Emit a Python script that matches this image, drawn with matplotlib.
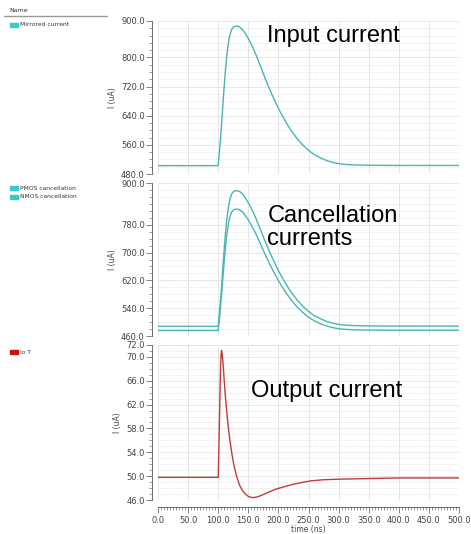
import numpy as np
import matplotlib.pyplot as plt
from matplotlib.ticker import FixedLocator, MultipleLocator
from matplotlib.patches import Rectangle
from matplotlib.lines import Line2D

# Input (mirrored) current
t_in = [0, 100, 102, 104, 106, 108, 110, 112, 114, 116, 118, 120, 122, 124, 127, 130,
        133, 136, 140, 145, 150, 155, 160, 165, 170, 175, 180, 185, 190, 195, 200, 205,
        210, 215, 220, 225, 230, 235, 240, 245, 250, 255, 260, 270, 280, 290, 300, 310,
        325, 350, 400, 500]
i_in = [503, 503, 540, 580, 625, 675, 722, 764, 800, 828, 850, 865, 875, 881, 885, 886,
        885.5, 883, 877, 866, 852, 836, 818, 798, 777, 755.5, 734.5, 714.5, 695.5, 677.5, 660.5, 644.5,
        629.5, 615.5, 602.5, 590.5, 579.5, 569.5, 560.5, 552.5, 545, 538.5, 533, 524, 517, 512, 508.5, 506.5,
        505, 504, 503.5, 503.5]

# Cancellation currents (same time base as input)
i_pmos = [488, 488, 526, 566, 612, 663, 711, 754, 790, 819, 841, 856.5, 867, 873, 877, 878,
          877.4, 875, 869, 857.5, 843, 827, 809, 788, 767, 745, 724, 703, 684, 666, 648, 632,
          617, 602.5, 589, 577, 566, 556, 546.5, 538.5, 531, 524, 518.5, 509.5, 502, 497, 493.5, 491.5,
          490, 489, 488.5, 488.5]
i_nmos = [476, 476, 510, 546, 587, 633, 675.5, 714, 746.5, 772, 792, 806, 815, 820, 824, 825,
          824.5, 822, 817, 806.5, 794, 779, 763, 745, 725.5, 706, 687, 668.5, 651.5, 635, 619.5, 605,
          591, 578.5, 566.5, 555.5, 545.5, 536.5, 528.5, 521, 514.5, 508.5, 503.5, 495, 488.8, 484.2, 481, 479.2,
          477.8, 477, 476.5, 476.5]

# Output current Io T
t_out = [0, 100, 101, 102, 103, 104, 105, 105.6, 106.5, 108, 110, 112, 114, 117, 120, 123,
         126, 130, 135, 140, 145, 150, 156, 162, 170, 181, 195, 209, 223, 237, 253, 275,
         303, 350, 400, 500]
i_out = [49.8, 49.8, 54, 59, 64, 68.5, 70.7, 71.1, 70.6, 69.0, 66.0, 63.3, 61.0, 58.0, 55.6, 53.6,
         51.9, 50.2, 48.6, 47.6, 47.0, 46.6, 46.4, 46.45, 46.7, 47.2, 47.8, 48.2, 48.6, 48.9, 49.2, 49.4,
         49.5, 49.6, 49.7, 49.7]

x_ticks = [0, 50, 100, 150, 200, 250, 300, 350, 400, 450, 500]
y_ticks1 = [480, 560, 640, 720, 800, 900]
y_ticks2 = [460, 540, 620, 700, 780, 900]
y_ticks3 = [46, 50, 54, 58, 62, 66, 70, 72]

teal = '#4bb5b5'
red = '#c23b3b'
W, H = 471, 534

fig = plt.figure(figsize=(W/100, H/100), dpi=100)


def px_axes(left, top, right, bottom):
    return fig.add_axes([left/W, 1-bottom/H, (right-left)/W, (bottom-top)/H])


def style(ax, yticks, ystep, show_x):
    ax.set_xlim(0, 500)
    ax.set_ylim(yticks[0], yticks[-1])
    ax.yaxis.set_major_locator(FixedLocator(yticks))
    ax.yaxis.set_minor_locator(MultipleLocator(ystep/4))
    ax.set_yticklabels([f'{v:.1f}' for v in yticks])
    ax.xaxis.set_major_locator(FixedLocator(x_ticks))
    ax.xaxis.set_minor_locator(MultipleLocator(5))
    for s in ['top', 'right']:
        ax.spines[s].set_visible(False)
    ax.spines['left'].set_position(('outward', 4))
    ax.spines['left'].set_color('#555555')
    ax.spines['left'].set_linewidth(0.6)
    ax.tick_params(axis='y', which='major', length=4, width=0.5, colors='#555555',
                   labelsize=6, labelcolor='#444444', pad=1.5)
    ax.tick_params(axis='y', which='minor', length=2, width=0.4, colors='#555555')
    ax.grid(True, axis='x', which='major', color='#e2e2e2', lw=0.6)
    ax.grid(True, axis='y', which='major', color='#e2e2e2', lw=0.6)
    ax.grid(True, axis='y', which='minor', color='#d6d6d6', lw=0.5, ls=(0, (1, 1.5)))
    ax.set_ylabel('I (uA)', fontsize=5.5, color='#444444', labelpad=3)
    if show_x:
        ax.spines['bottom'].set_position(('outward', 5))
        ax.spines['bottom'].set_color('#555555')
        ax.spines['bottom'].set_linewidth(0.6)
        ax.set_xticklabels([f'{v:.1f}' for v in x_ticks])
        ax.tick_params(axis='x', which='major', length=4, width=0.5, colors='#555555',
                       labelsize=6, labelcolor='#444444', pad=2.5)
        ax.tick_params(axis='x', which='minor', length=2, width=0.4, colors='#555555')
        ax.set_xlabel('time (ns)', fontsize=5.5, color='#444444', labelpad=0)
    else:
        ax.spines['bottom'].set_visible(False)
        ax.tick_params(axis='x', which='both', length=0, labelbottom=False)


ax1 = px_axes(158, 21, 459, 174)
ax2 = px_axes(158, 183, 459, 336)
ax3 = px_axes(158, 345, 459, 500)

ax1.plot(t_in, i_in, color=teal, lw=1.0)
ax2.plot(t_in, i_pmos, color=teal, lw=1.0)
ax2.plot(t_in, i_nmos, color=teal, lw=1.0)
ax3.plot(t_out, i_out, color=red, lw=1.0)

style(ax1, y_ticks1, 80, False)
style(ax2, y_ticks2, 80, False)
style(ax3, y_ticks3, 4, True)

big = dict(fontsize=17, family='Liberation Sans', color='black')
ax1.text(0.363, 0.905, 'Input current', transform=ax1.transAxes, va='center', **big)
ax2.text(0.363, 0.71, 'Cancellation\ncurrents', transform=ax2.transAxes, va='center',
         linespacing=1.1, **big)
ax3.text(0.31, 0.70, 'Output current', transform=ax3.transAxes, va='center', **big)

# left-hand name list
fig.text(9/W, 1-10/H, 'Name', fontsize=4.5, color='#333333', va='center')
fig.add_artist(Line2D([4/W, 107/W], [1-16/H, 1-16/H], color='#999999', lw=1.0))
entries = [('Mirrored current', 25, '#33cccc'),
           ('PMOS cancellation', 188.5, '#33cccc'),
           ('NMOS cancellation', 196.5, '#33cccc'),
           ('Io T', 352, '#cc1111')]
for name, yc, col in entries:
    fig.add_artist(Rectangle((10/W, 1-(yc+2)/H), 8/W, 4/H, color=col))
    fig.text(20/W, 1-yc/H, name, fontsize=4.3, color='#333333', va='center')

fig.savefig('out.png', dpi=100)
